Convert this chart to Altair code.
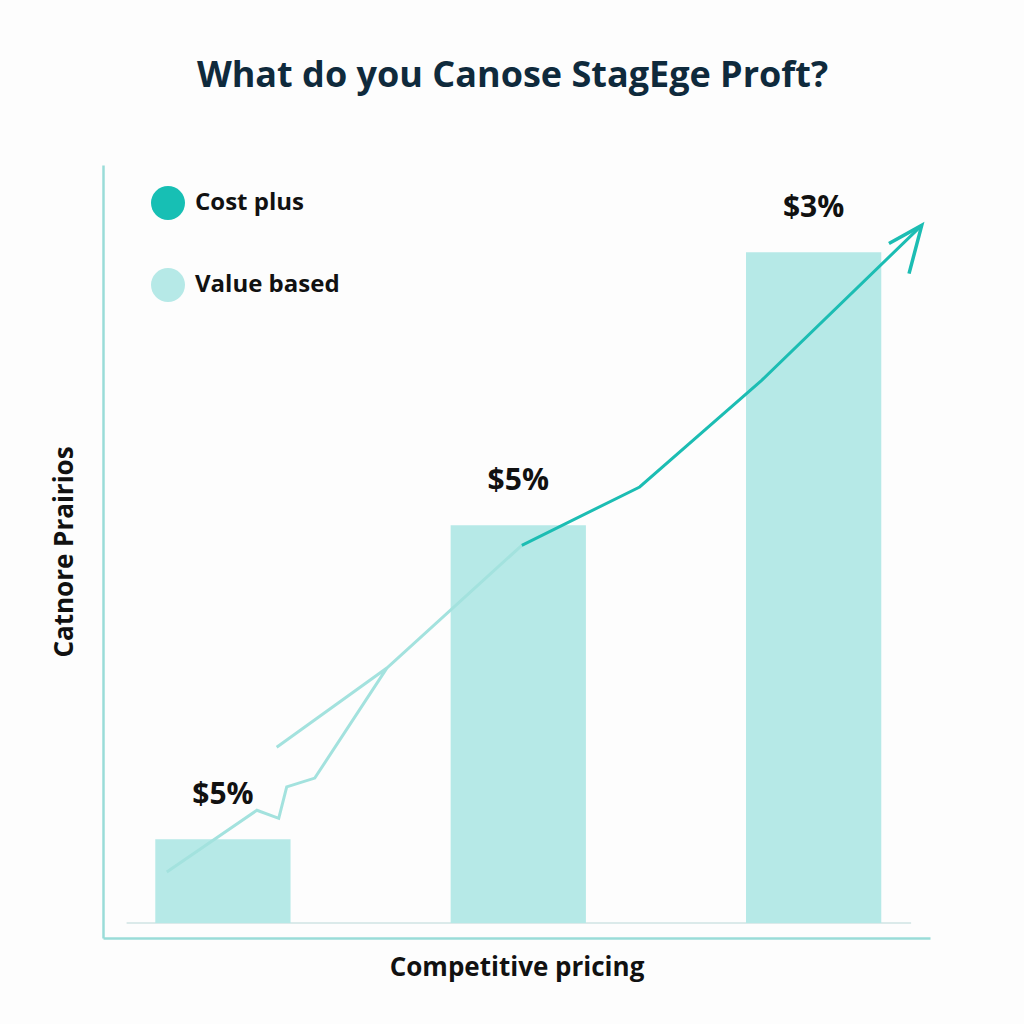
import altair as alt
import pandas as pd

# ---- data ----
bar_centers = [1, 2, 3]
bar_values = [12.5, 59.3, 100.0]
bar_labels = ["$5%", "$5%", "$3%"]
bar_half_width = 0.229
bar_series = ["Value based", "Value based", "Value based"]

series_names = ["Cost plus", "Value based"]
series_colors = ["#17bfb4", "#b6e9e7"]

# trend line (light, lower part) in data units
light_x = [0.81, 1.115, 1.189, 1.216, 1.311, 1.555, 1.182, 1.555, 2.012]
light_y = [7.6, 16.8, 15.6, 20.3, 21.6, 38.0, 26.2, 38.0, 56.3]
# trend line (dark, upper part)
dark_x = [2.012, 2.411, 2.824, 3.366]
dark_y = [56.3, 65.0, 80.9, 104.0]
# arrow head
head_x = [3.255, 3.366, 3.323]
head_y = [101.3, 104.0, 96.8]

baseline_x = [0.674, 3.33]

x_domain = [0.594, 3.394]
y_domain = [-2.24, 113.0]

bars = pd.DataFrame({
    "x": [c - bar_half_width for c in bar_centers],
    "x2": [c + bar_half_width for c in bar_centers],
    "xc": bar_centers,
    "v": bar_values,
    "label": bar_labels,
    "series": bar_series,
})
light = pd.DataFrame({"x": light_x, "y": light_y, "o": list(range(len(light_x)))})
dark = pd.DataFrame({"x": dark_x, "y": dark_y, "o": list(range(len(dark_x)))})
head = pd.DataFrame({"x": head_x, "y": head_y, "o": list(range(len(head_x)))})
base = pd.DataFrame({"x": [baseline_x[0]], "x2": [baseline_x[1]], "y": [0]})

xs = alt.Scale(domain=x_domain, nice=False, zero=False)
ys = alt.Scale(domain=y_domain, nice=False, zero=False)

axis_common = dict(domainColor="#9adcd8", domainWidth=2.5, ticks=False, labels=False,
                   grid=False, titleFont="Open Sans", titleFontWeight=700,
                   titleColor="#111111")

X = alt.X("x:Q", scale=xs, title="Competitive pricing",
          axis=alt.Axis(**axis_common, titleFontSize=26, titlePadding=16))
Y = alt.Y("v:Q", scale=ys, title="Catnore Prairios",
          axis=alt.Axis(**axis_common, titleFontSize=26, titlePadding=26))

bar_layer = alt.Chart(bars).mark_bar().encode(
    x=X, x2="x2:Q", y=Y, y2=alt.datum(0),
    color=alt.Color("series:N",
                    scale=alt.Scale(domain=series_names, range=series_colors),
                    legend=alt.Legend(title=None, orient="none", legendX=48, legendY=21,
                                      symbolType="circle", symbolSize=1156,
                                      symbolStrokeWidth=0, labelFontSize=24,
                                      labelFont="Open Sans", labelFontWeight=700,
                                      labelColor="#111111", labelOffset=10,
                                      rowPadding=48, padding=0)),
)

base_layer = alt.Chart(base).mark_rule(color="#cfe3e3", strokeWidth=1.5).encode(
    x=alt.X("x:Q", scale=xs), x2="x2:Q", y=alt.Y("y:Q", scale=ys))

text_layer = alt.Chart(bars).mark_text(
    dy=-44, fontSize=30, font="Open Sans", fontWeight=700, color="#111111",
    baseline="middle").encode(
    x=alt.X("xc:Q", scale=xs), y=alt.Y("v:Q", scale=ys), text="label:N")

light_layer = alt.Chart(light).mark_line(color="#a3e2de", strokeWidth=3).encode(
    x=alt.X("x:Q", scale=xs), y=alt.Y("y:Q", scale=ys), order="o:Q")
dark_layer = alt.Chart(dark).mark_line(color="#1cbdb3", strokeWidth=3).encode(
    x=alt.X("x:Q", scale=xs), y=alt.Y("y:Q", scale=ys), order="o:Q")
head_layer = alt.Chart(head).mark_line(color="#1cbdb3", strokeWidth=3.5).encode(
    x=alt.X("x:Q", scale=xs), y=alt.Y("y:Q", scale=ys), order="o:Q")

chart = alt.layer(base_layer, bar_layer, light_layer, dark_layer, head_layer, text_layer).properties(
    width=827, height=773,
    autosize=alt.AutoSizeParams(type="none"),
    padding={"left": 103, "top": 165, "right": 94, "bottom": 86},
    background="#fdfdfd",
    title=alt.TitleParams("What do you Canose StagEge Proft?", fontSize=36,
                          font="Open Sans", fontWeight=700, color="#0f2a3c",
                          anchor="middle", offset=70, dx=-4),
).configure_view(stroke=None)

chart.save("out.html", embed_options={"renderer": "svg", "actions": False})
